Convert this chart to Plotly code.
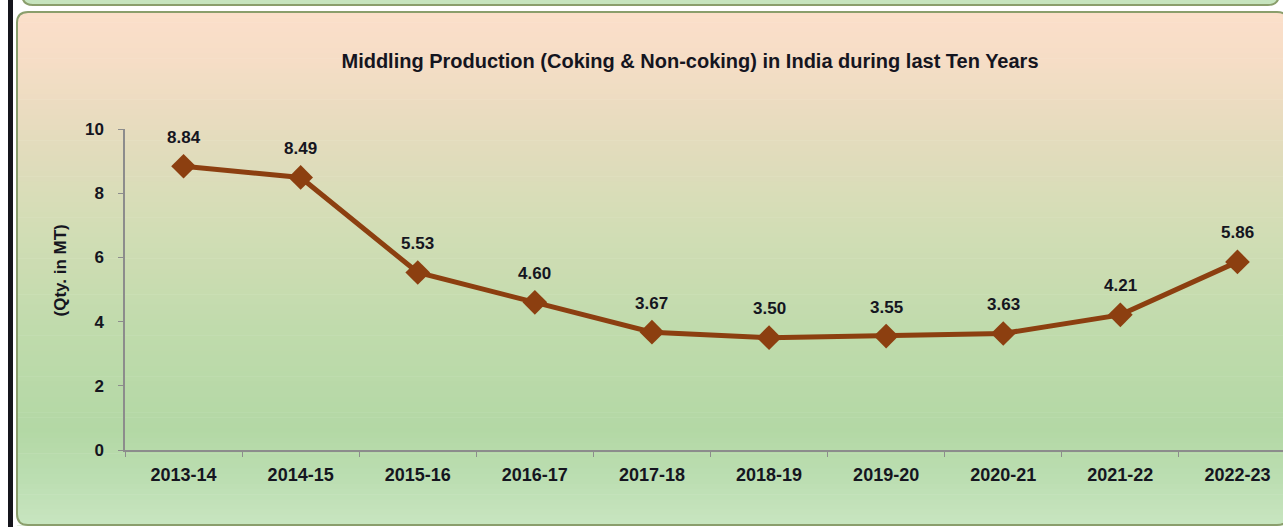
import plotly.graph_objects as go

# ---------------- data ----------------
years = ["2013-14", "2014-15", "2015-16", "2016-17", "2017-18",
         "2018-19", "2019-20", "2020-21", "2021-22", "2022-23"]
production = [8.84, 8.49, 5.53, 4.60, 3.67, 3.50, 3.55, 3.63, 4.21, 5.86]
y_ticks = [0, 2, 4, 6, 8, 10]
title_text = "Middling Production (Coking & Non-coking) in India during last Ten Years"
y_title = "(Qty. in MT)"

W, H = 1283, 527
FONT = "Liberation Sans, Arial, sans-serif"
LINE_COLOR = "#8c3f10"


def px(x):
    return x / W


def py(y):
    return 1 - y / H


def hex2rgb(h):
    h = h.lstrip("#")
    return tuple(int(h[i:i + 2], 16) for i in (0, 2, 4))


stops = [(12, "#fbdfca"), (60, "#f6ddc6"), (130, "#e6dcbe"),
         (230, "#d2ddb5"), (330, "#c0dbac"), (430, "#b3d8a5"),
         (480, "#bcdeb2"), (525, "#c8e5c0")]


def colour_at(y):
    for (y0, c0), (y1, c1) in zip(stops[:-1], stops[1:]):
        if y0 <= y <= y1:
            t = (y - y0) / (y1 - y0)
            a, b = hex2rgb(c0), hex2rgb(c1)
            return "rgb(%d,%d,%d)" % tuple(round(a[i] + (b[i] - a[i]) * t) for i in range(3))
    return stops[-1][1]


shapes = []
BOX_L, BOX_T, BOX_R, BOX_B = 17, 12, 1288, 525
n_bands = 100
step = (BOX_B - BOX_T) / n_bands
for i in range(n_bands):
    ya = BOX_T + i * step
    yb = ya + step + 0.6
    shapes.append(dict(type="rect", xref="paper", yref="paper",
                       x0=px(BOX_L), x1=px(BOX_R), y0=py(yb), y1=py(ya),
                       fillcolor=colour_at(ya + step / 2), line_width=0, layer="below"))


def rounded_path(l, t, r, b, rad):
    def P(x, y):
        return "%f,%f" % (px(x), py(y))
    return ("M " + P(l + rad, t) + " L " + P(r - rad, t) + " Q " + P(r, t) + " " + P(r, t + rad) +
            " L " + P(r, b - rad) + " Q " + P(r, b) + " " + P(r - rad, b) +
            " L " + P(l + rad, b) + " Q " + P(l, b) + " " + P(l, b - rad) +
            " L " + P(l, t + rad) + " Q " + P(l, t) + " " + P(l + rad, t) + " Z")


def corner_mask(cx, cy, dx, dy, rad):
    def P(x, y):
        return "%f,%f" % (px(x), py(y))
    return ("M " + P(cx, cy) + " L " + P(cx + dx * rad, cy) + " Q " + P(cx, cy) + " " +
            P(cx, cy + dy * rad) + " Z")


RAD = 11
for cx, cy, dx, dy in [(BOX_L, BOX_T, 1, 1), (BOX_L, BOX_B, 1, -1), (BOX_R, BOX_T, -1, 1)]:
    shapes.append(dict(type="path", xref="paper", yref="paper",
                       path=corner_mask(cx, cy, dx, dy, RAD), fillcolor="white",
                       line_width=0, layer="below"))
shapes.append(dict(type="path", xref="paper", yref="paper",
                   path=rounded_path(BOX_L, BOX_T, BOX_R, BOX_B, RAD),
                   line=dict(color="#8a9e6c", width=2), layer="below"))
shapes.append(dict(type="path", xref="paper", yref="paper",
                   path=rounded_path(22, -30, 1279, 5, RAD), fillcolor="#c6e4be",
                   line=dict(color="#8a9e6c", width=2), layer="below"))
shapes.append(dict(type="rect", xref="paper", yref="paper",
                   x0=px(8), x1=px(13), y0=0, y1=1, fillcolor="#15151c",
                   line_width=0, layer="below"))

fig = go.Figure()
fig.add_trace(go.Scatter(
    x=years, y=production, mode="lines+markers",
    line=dict(color=LINE_COLOR, width=5),
    marker=dict(symbol="diamond", size=19, color=LINE_COLOR),
    hoverinfo="x+y", showlegend=False))

annotations = []
for yr, v in zip(years, production):
    annotations.append(dict(x=yr, y=v, xref="x", yref="y", text="%.2f" % v,
                            showarrow=False, yshift=29,
                            font=dict(family=FONT, size=17, color="#15151f", weight="bold")))
annotations.append(dict(x=px(48), y=py(271), xref="paper", yref="paper", text=y_title,
                        textangle=-90, showarrow=False,
                        font=dict(family=FONT, size=17, color="#15151f", weight="bold")))

fig.update_layout(
    width=W, height=H,
    margin=dict(l=0, r=0, t=0, b=0, pad=0, autoexpand=False),
    paper_bgcolor="white", plot_bgcolor="rgba(0,0,0,0)",
    shapes=shapes, annotations=annotations,
    title=dict(text=title_text, x=px(690), y=py(61), xref="paper", yref="paper",
               xanchor="center", yanchor="middle", automargin=False,
               font=dict(family=FONT, size=20, color="#15151f", weight="bold")),
    xaxis=dict(domain=[px(125), 1], type="category", automargin=False,
               range=[-0.5, -0.5 + (W - 125) / 117.1],
               showline=True, linecolor="#8c8c8c", linewidth=1.5,
               ticks="outside", ticklen=5, tickcolor="#8c8c8c", tickson="boundaries",
               showgrid=False, zeroline=False, ticklabelstandoff=8,
               tickfont=dict(family=FONT, size=18, color="#15151f", weight="bold")),
    yaxis=dict(domain=[py(450), py(129)], range=[0, 10], tickvals=y_ticks, automargin=False,
               showline=True, linecolor="#8c8c8c", linewidth=1.5,
               ticks="outside", ticklen=5, tickcolor="#8c8c8c",
               showgrid=False, zeroline=False, ticklabelstandoff=11,
               tickfont=dict(family=FONT, size=17, color="#15151f", weight="bold")),
)

post = ("document.documentElement.style.overflow='hidden';"
        "document.body.style.margin='0';document.body.style.padding='0';"
        "document.body.style.overflow='hidden';"
        "var gd=document.getElementById('{plot_id}');"
        "gd.style.position='fixed';gd.style.left='0px';gd.style.top='0px';")
fig.write_html("out.html", config={"displayModeBar": False}, post_script=post)
